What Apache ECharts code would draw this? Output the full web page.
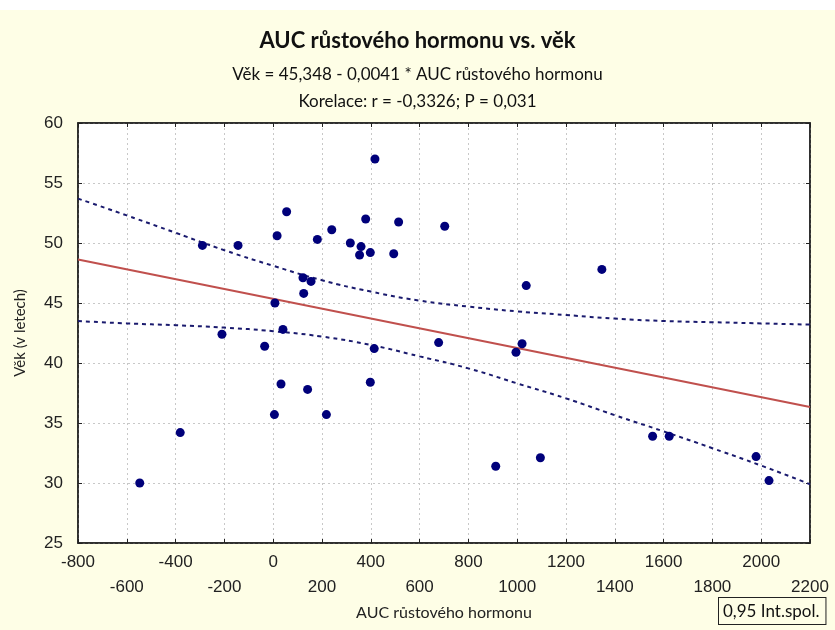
<!DOCTYPE html>
<html>
<head>
<meta charset="utf-8">
<script src="https://cdn.jsdelivr.net/npm/echarts@6/dist/echarts.min.js"></script>
<style>
html,body{margin:0;padding:0;background:#fff;}
#c{width:835px;height:630px;}
</style>
</head>
<body>
<div id="c"></div>
<script>
// Data
const aucValues = [-547, -381, -290, -210, -144, -35, 5, 7, 16, 32, 40, 55, 122, 125, 141, 155, 181, 218, 240, 316, 354, 360, 379, 398, 398, 414, 417, 494, 514, 678, 703, 912, 995, 1020, 1037, 1095, 1347, 1555, 1623, 1979, 2032];
const ageValues = [30.0, 34.2, 49.8, 42.4, 49.8, 41.4, 35.7, 45.0, 50.6, 38.25, 42.8, 52.6, 47.1, 45.8, 37.8, 46.8, 50.3, 35.7, 51.1, 50.0, 49.0, 49.7, 52.0, 49.2, 38.4, 41.2, 57.0, 49.1, 51.75, 41.7, 51.4, 31.4, 40.9, 41.6, 46.45, 32.1, 47.8, 33.9, 33.9, 32.2, 30.2];

// Regression line endpoints (read at x = -800 and 2200)
const fitX = [-800, 2200];
const fitY = [48.63, 36.33];

// Confidence band (0,95)
const bandX = [-800, -600, -400, -200, 0, 200, 400, 600, 800, 1000, 1200, 1400, 1600, 1800, 2000, 2200];
const bandUpper = [53.7, 52.3, 50.85, 49.4, 48.1, 46.9, 45.95, 45.2, 44.7, 44.3, 44.0, 43.7, 43.5, 43.4, 43.3, 43.2];
const bandLower = [43.5, 43.3, 43.15, 42.95, 42.65, 42.2, 41.5, 40.55, 39.55, 38.3, 37.05, 35.65, 34.3, 32.9, 31.45, 29.9];

const titleText = 'AUC růstového hormonu vs. věk';
const subText1 = 'Věk = 45,348 - 0,0041 * AUC růstového hormonu';
const subText2 = 'Korelace: r = -0,3326; P = 0,031';
const xName = 'AUC růstového hormonu';
const yName = 'Věk (v letech)';
const legendText = '0,95 Int.spol.';

const zip = (a, b) => a.map((v, i) => [v, b[i]]);

const chart = echarts.init(document.getElementById('c'), null, {renderer: 'canvas'});
const labelFont = 'Liberation Sans';
const textFont = 'Lato';

const gridLine = {show: true, lineStyle: {color: '#c8c8c8', type: [2, 3], width: 1}};

const option = {
  backgroundColor: '#FEFEE6',
  animation: false,
  title: [
    {text: titleText, left: 'center', top: 25, textStyle: {fontFamily: textFont, fontSize: 22, fontWeight: 'bold', color: '#111'}},
    {text: subText1, left: 'center', top: 61, textStyle: {fontFamily: textFont, fontSize: 17, fontWeight: 'normal', color: '#111'}},
    {text: subText2, left: 'center', top: 88, textStyle: {fontFamily: textFont, fontSize: 17, fontWeight: 'normal', color: '#111'}}
  ],
  grid: {left: 78, right: 25, top: 123, bottom: 87, show: true, backgroundColor: '#fff', borderColor: '#222', borderWidth: 1.5},
  xAxis: [
    {
      type: 'value', min: -800, max: 2200, interval: 200,
      name: xName, nameLocation: 'middle', nameGap: 60,
      nameTextStyle: {fontFamily: textFont, fontSize: 16, color: '#222'},
      axisLine: {show: true, onZero: false, lineStyle: {color: '#222', width: 1.5}},
      axisTick: {show: true, inside: true, length: 4, lineStyle: {color: '#222'}},
      splitLine: gridLine,
      axisLabel: {
        fontFamily: labelFont, fontSize: 17, color: '#222', margin: 7, lineHeight: 25,
        formatter: function (v) {
          const idx = Math.round((v + 800) / 200);
          return idx % 2 === 0 ? String(v) : '\n' + v;
        }
      }
    },
    {
      type: 'value', min: -800, max: 2200, interval: 200, position: 'top',
      axisLine: {show: true, onZero: false, lineStyle: {color: '#222', width: 1.5}},
      axisTick: {show: true, inside: true, length: 4, lineStyle: {color: '#222'}},
      axisLabel: {show: false}, splitLine: {show: false}
    }
  ],
  yAxis: [
    {
      type: 'value', min: 25, max: 60, interval: 5,
      name: yName, nameLocation: 'middle', nameGap: 50, nameRotate: 90,
      nameTextStyle: {fontFamily: textFont, fontSize: 15, color: '#222'},
      axisLine: {show: true, onZero: false, lineStyle: {color: '#222', width: 1.5}},
      axisTick: {show: true, inside: true, length: 4, lineStyle: {color: '#222'}},
      splitLine: gridLine,
      axisLabel: {fontFamily: labelFont, fontSize: 17, color: '#222', margin: 15}
    },
    {
      type: 'value', min: 25, max: 60, interval: 5, position: 'right',
      axisLine: {show: true, onZero: false, lineStyle: {color: '#222', width: 1.5}},
      axisTick: {show: true, inside: true, length: 4, lineStyle: {color: '#222'}},
      axisLabel: {show: false}, splitLine: {show: false}
    }
  ],
  series: [
    {
      type: 'line', data: zip(bandX, bandUpper), smooth: true, symbol: 'none',
      lineStyle: {color: '#1a1a6e', width: 2, type: [4, 4]}, z: 3
    },
    {
      type: 'line', data: zip(bandX, bandLower), smooth: true, symbol: 'none',
      lineStyle: {color: '#1a1a6e', width: 2, type: [4, 4]}, z: 3
    },
    {
      type: 'line', data: zip(fitX, fitY), symbol: 'none',
      lineStyle: {color: '#C0504D', width: 2}, z: 4
    },
    {
      type: 'scatter', data: zip(aucValues, ageValues), symbolSize: 9,
      itemStyle: {color: '#00007A', opacity: 1}, z: 5
    }
  ],
  graphic: [
    {type: 'rect', left: 0, top: 0, shape: {width: 835, height: 10}, style: {fill: '#ffffff'}, z: -1},
    {
      type: 'text', left: 718, top: 597,
      style: {
        text: legendText, fontFamily: textFont, fontSize: 17, fill: '#111',
        backgroundColor: '#FEFEE6', borderColor: '#222', borderWidth: 1,
        padding: [5, 6, 4, 4]
      }
    }
  ]
};
chart.setOption(option);
</script>
</body>
</html>
